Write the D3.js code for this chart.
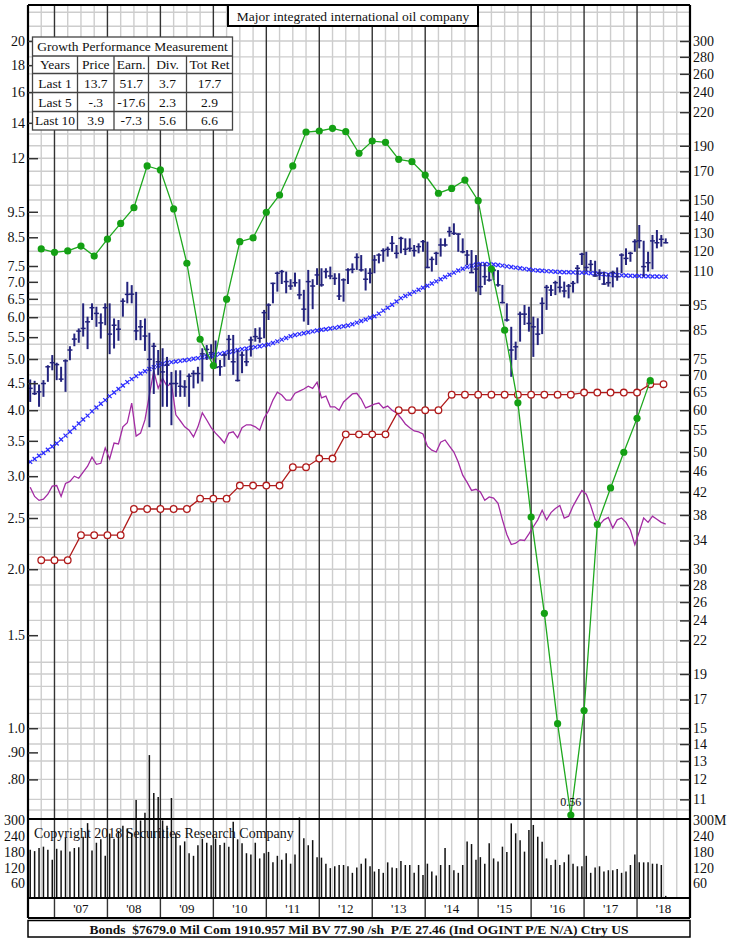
<!DOCTYPE html>
<html>
<head>
<meta charset="utf-8">
<script src="https://cdn.jsdelivr.net/npm/d3@7"></script>
<style>
  body { margin: 0; background: #fff; }
  svg text { font-family: "Liberation Serif", "DejaVu Serif", serif; fill: #111; }
</style>
</head>
<body>
<svg id="chart" width="730" height="939"></svg>
<script>
// monthly series start July 2006, quarterly series start Q3 2006
var firstMonth = 2006.5;
var firstQuarter = 2006.75;

// monthly price bars (right scale, $)
var priceHigh = [
  68.6, 68.2, 67.1, 68.4, 73.0, 76.3,
  73.8, 72.5, 74.9, 79.3, 83.8, 85.7, 95.6, 90.2, 95.6, 94.2, 91.5, 95.6,
  95.6, 89.5, 88.9, 97.7, 105.0, 103.5, 100.5, 88.9, 89.5, 84.1, 80.5, 78.0,
  78.6, 75.7, 70.9, 71.4, 71.4, 68.4, 70.4, 71.4, 72.5, 78.6, 79.7, 80.0,
  81.3, 74.7, 76.9, 83.3, 83.3, 78.0, 77.5, 78.0, 82.7, 85.8, 86.1, 92.9,
  95.6, 104.6, 109.8, 110.6, 109.8, 106.2, 109.3, 106.2, 101.4, 110.6, 106.2, 111.4,
  111.4, 111.4, 112.2, 109.0, 109.0, 106.6, 111.4, 113.8, 118.9, 118.0, 111.4, 111.4,
  118.0, 118.9, 121.5, 122.4, 128.2, 123.3, 127.8, 126.9, 126.9, 123.3, 124.2, 126.0,
  125.1, 117.2, 119.7, 126.9, 126.9, 133.5, 135.5, 129.7, 126.9, 120.6, 120.6, 118.0,
  113.8, 113.8, 112.2, 111.4, 110.5, 103.6, 95.6, 86.3, 80.9, 92.2, 94.9, 94.2,
  90.2, 89.6, 98.1, 103.6, 103.6, 105.5, 107.7, 105.1, 104.0, 105.4, 113.0, 119.2,
  119.7, 115.5, 115.1, 110.9, 109.8, 109.0, 110.2, 111.8, 118.9, 121.5, 119.7, 126.4,
  134.5, 125.6, 119.7, 128.8, 131.6, 128.8, 126.9
];
var priceLow = [
  62.2, 64.1, 60.9, 63.6, 67.9, 71.4,
  68.4, 67.9, 65.0, 74.6, 79.3, 80.5, 82.7, 78.3, 88.9, 86.3, 82.0, 86.9,
  76.6, 78.5, 81.2, 90.2, 95.6, 95.6, 81.4, 81.4, 77.7, 55.7, 64.4, 69.9,
  60.9, 60.9, 56.2, 63.6, 63.6, 63.6, 60.9, 66.0, 67.4, 68.0, 74.7, 74.9,
  72.0, 69.7, 72.5, 74.7, 70.0, 68.0, 70.5, 72.7, 75.8, 80.9, 80.5, 82.1,
  88.9, 95.6, 100.6, 104.0, 99.9, 101.4, 102.8, 97.3, 88.3, 87.0, 93.2, 103.6,
  102.8, 106.6, 106.2, 103.6, 97.0, 96.3, 104.0, 109.0, 110.6, 109.8, 101.1, 104.3,
  109.0, 113.8, 114.6, 117.2, 119.7, 116.3, 118.9, 118.0, 119.7, 117.2, 118.9, 119.7,
  111.4, 109.8, 113.0, 117.2, 122.4, 127.8, 128.8, 119.7, 118.9, 113.0, 109.3, 100.6,
  99.1, 103.6, 105.1, 105.8, 102.8, 95.6, 88.3, 69.4, 74.7, 80.9, 87.0, 84.5,
  75.7, 79.7, 83.6, 92.9, 98.7, 99.1, 100.2, 98.1, 97.7, 100.2, 104.3, 113.0,
  109.8, 109.8, 107.4, 105.8, 103.6, 102.8, 102.5, 105.5, 109.0, 113.0, 114.6, 119.7,
  121.5, 107.4, 109.8, 110.9, 121.5, 122.4, 124.2
];
var priceClose = [
  66.0, 64.5, 65.0, 67.4, 72.5, 73.8,
  73.2, 68.7, 74.4, 78.0, 81.8, 84.7, 85.7, 88.2, 93.8, 91.5, 87.8, 93.8,
  83.6, 86.9, 85.4, 96.5, 99.4, 99.5, 84.8, 86.3, 82.9, 74.9, 79.3, 74.1,
  70.9, 73.0, 67.4, 67.4, 66.6, 66.4, 69.6, 70.4, 70.4, 76.7, 78.2, 77.1,
  72.3, 72.5, 76.3, 81.7, 74.1, 68.3, 76.3, 74.1, 81.5, 82.7, 82.1, 91.8,
  94.9, 104.3, 109.0, 109.8, 105.1, 103.1, 104.6, 99.2, 93.2, 105.1, 103.1, 108.2,
  103.6, 109.8, 107.7, 106.6, 98.7, 105.9, 110.6, 110.9, 116.8, 110.6, 106.2, 109.0,
  115.5, 118.0, 120.3, 121.0, 124.2, 118.9, 126.9, 121.0, 121.5, 120.3, 122.4, 125.1,
  111.8, 115.8, 118.9, 123.3, 123.3, 130.7, 129.7, 129.3, 119.7, 118.0, 109.3, 111.0,
  102.8, 107.4, 105.8, 110.5, 103.6, 95.9, 88.9, 78.0, 79.1, 91.2, 91.2, 87.6,
  86.3, 83.6, 95.6, 102.5, 101.3, 104.6, 102.5, 100.9, 103.1, 104.3, 111.4, 118.4,
  111.8, 113.3, 107.7, 109.0, 104.0, 104.6, 109.4, 107.4, 118.0, 116.3, 118.9, 125.1,
  125.6, 112.2, 114.1, 125.5, 124.5, 126.4, 124.5
];
// moving average (blue x marks), right scale
var movingAvg = [
  47.9, 48.5, 49.2, 49.8, 50.5, 51.2,
  51.9, 52.8, 53.7, 54.6, 55.6, 56.6, 57.6, 58.6, 59.7, 60.7, 61.7, 62.7,
  63.8, 64.8, 65.8, 66.8, 67.8, 68.7, 69.6, 70.4, 71.1, 71.8, 72.4, 72.9,
  73.4, 73.7, 74.0, 74.2, 74.4, 74.6, 74.8, 75.1, 75.3, 75.6, 75.8, 76.1,
  76.4, 76.7, 77.0, 77.3, 77.6, 78.0, 78.3, 78.5, 78.8, 79.0, 79.3, 79.6,
  79.9, 80.4, 81.0, 81.6, 82.2, 82.8, 83.3, 83.6, 83.9, 84.3, 84.6, 84.9,
  85.2, 85.4, 85.7, 85.9, 86.2, 86.5, 86.8, 87.3, 87.9, 88.5, 89.1, 89.8,
  90.4, 91.4, 92.6, 93.8, 95.0, 96.4, 97.8, 98.7, 99.6, 100.5, 101.4, 102.3,
  103.2, 104.2, 105.2, 106.2, 107.2, 108.3, 109.3, 110.3, 111.2, 112.0, 112.6, 113.1,
  113.5, 113.5, 113.4, 113.2, 113.0, 112.7, 112.3, 112.0, 111.7, 111.4, 111.1, 110.8,
  110.5, 110.3, 110.2, 110.0, 109.9, 109.7, 109.6, 109.5, 109.5, 109.4, 109.3, 109.3,
  109.2, 109.0, 108.9, 108.7, 108.6, 108.4, 108.2, 108.1, 108.0, 107.9, 107.8, 107.7,
  107.7, 107.6, 107.6, 107.5, 107.5, 107.4, 107.4
];
// relative strength line (purple), plotted against right scale
var relStrength = [
  42.9, 41.2, 40.5, 40.7, 41.6, 43.1,
  43.2, 41.2, 43.6, 44.0, 45.0, 44.6, 45.8, 47.0, 48.9, 47.4, 47.6, 50.9,
  48.5, 52.0, 51.8, 55.8, 56.8, 61.9, 53.6, 54.3, 57.5, 64.1, 71.2, 66.0,
  69.0, 66.6, 67.5, 58.8, 57.3, 55.8, 55.0, 53.4, 55.8, 59.3, 57.5, 55.6,
  54.3, 53.2, 52.0, 54.3, 54.6, 53.2, 55.6, 56.3, 56.3, 55.8, 55.0, 58.0,
  59.8, 62.7, 64.9, 64.1, 62.7, 62.7, 64.6, 65.2, 65.8, 66.6, 66.0, 67.8,
  63.3, 63.8, 60.9, 60.9, 60.0, 62.2, 63.3, 64.4, 64.6, 63.0, 60.6, 61.1,
  61.6, 61.9, 60.6, 61.1, 60.0, 59.3, 58.0, 56.5, 55.6, 54.8, 54.6, 54.1,
  51.3, 50.4, 50.0, 52.2, 52.7, 51.3, 50.0, 47.8, 45.2, 43.8, 42.3, 42.5,
  42.0, 40.5, 41.1, 40.9, 40.0, 37.2, 34.9, 33.4, 33.6, 34.1, 34.0, 35.0,
  36.1, 37.2, 38.8, 37.2, 38.4, 39.1, 39.6, 37.5, 37.8, 39.5, 40.9, 42.3,
  41.6, 39.6, 37.3, 36.4, 37.2, 37.6, 35.9, 37.2, 37.5, 36.8, 35.6, 33.4,
  35.3, 37.5, 36.8, 37.8, 37.3, 36.8, 36.5
];
// monthly volume, millions of shares
var volume = [
  188, 183, 195, 200, 188, 150,
  192, 185, 235, 182, 195, 198, 238, 290, 185, 215, 228, 165,
  250, 230, 260, 280, 270, 250, 378, 300, 330, 550, 405, 390,
  300, 280, 386, 250, 205, 220, 175, 165, 205, 230, 215, 205,
  230, 206, 215, 200, 295, 228, 213, 175, 170, 215, 155, 175,
  180, 140, 165, 150, 175, 135, 170, 312, 232, 205, 225, 160,
  158, 135, 118, 125, 130, 130, 125, 100, 120, 135, 155, 125,
  105, 115, 100, 140, 120, 118, 145, 130, 130, 100, 130, 92,
  135, 105, 90, 130, 195, 130, 110, 100, 130, 220, 210, 150,
  160, 135, 213, 155, 143, 200, 180, 289, 251, 225, 181, 264,
  283, 238, 219, 155, 130, 150, 130, 140, 170, 135, 125, 125,
  165, 100, 120, 125, 105, 110, 110, 115, 100, 105, 130, 170,
  140, 140, 140, 135, 135, 130, 12
];
// quarterly earnings and dividends per share (left scale)
var earnings = [
  8.08, 7.96, 8.01, 8.18, 7.83, 8.43, 9.03, 9.67, 11.60, 11.40, 9.62, 7.59,
  5.45, 4.86, 6.49, 8.34, 8.48, 9.48, 10.22, 11.60, 13.45, 13.51, 13.67, 13.47,
  12.26, 12.93, 12.86, 11.94, 11.82, 11.15, 10.30, 10.52, 10.91, 9.97, 7.40, 5.67,
  4.13, 2.51, 1.65, 1.02, 0.56, 1.08, 2.43, 2.85, 3.33, 3.86, 4.55
];
var dividends = [
  2.08, 2.08, 2.08, 2.32, 2.32, 2.32, 2.32, 2.60, 2.60, 2.60, 2.60, 2.60,
  2.72, 2.72, 2.72, 2.88, 2.88, 2.88, 2.88, 3.12, 3.12, 3.24, 3.24, 3.60,
  3.60, 3.60, 3.60, 4.00, 4.00, 4.00, 4.00, 4.28, 4.28, 4.28, 4.28, 4.28,
  4.28, 4.28, 4.28, 4.28, 4.28, 4.32, 4.32, 4.32, 4.32, 4.32, 4.48, 4.48
];

var leftTicks = [20, 18, 16, 14, 12, 9.5, 8.5, 7.5, 7.0, 6.5, 6.0, 5.5, 5.0, 4.5, 4.0, 3.5, 3.0, 2.5, 2.0, 1.5, 1.0, 0.9, 0.8];
var leftTickLabels = ["20", "18", "16", "14", "12", "9.5", "8.5", "7.5", "7.0", "6.5", "6.0", "5.5", "5.0", "4.5", "4.0", "3.5", "3.0", "2.5", "2.0", "1.5", "1.0", ".90", ".80"];
var rightTicks = [300, 280, 260, 240, 220, 190, 170, 150, 140, 130, 120, 110, 95, 85, 75, 70, 65, 60, 55, 50, 46, 42, 38, 34, 30, 28, 26, 24, 22, 19, 17, 15, 14, 13, 12, 11];
var gridValues = [340, 320, 300, 280, 260, 240, 220, 200, 190, 180, 170, 160, 150, 140, 130, 120, 110, 100, 95, 90, 85, 80, 75, 70, 65, 60, 55, 50, 48, 46, 44, 42, 40, 38, 36, 34, 32, 30, 28, 26, 24, 22, 20, 19, 18, 17, 16, 15, 14, 13, 12, 11, 10.5];
var volTicks = [300, 240, 180, 120, 60];
var volTickLabels = ["300M", "240", "180", "120", "60"];
var years = [2007, 2008, 2009, 2010, 2011, 2012, 2013, 2014, 2015, 2016, 2017, 2018];
var yearLabels = ["'07", "'08", "'09", "'10", "'11", "'12", "'13", "'14", "'15", "'16", "'17", "'18"];

var tableTitle = "Growth Performance Measurement";
var tableHeader = ["Years", "Price", "Earn.", "Div.", "Tot Ret"];
var tableRows = [
  ["Last 1", "13.7", "51.7", "3.7", "17.7"],
  ["Last 5", "-.3", "-17.6", "2.3", "2.9"],
  ["Last 10", "3.9", "-7.3", "5.6", "6.6"]
];
var title = "Major integrated international oil company";
var footer = "Bonds  $7679.0 Mil Com 1910.957 Mil BV 77.90 /sh  P/E 27.46 (Ind OGINT P/E N/A) Ctry US";
var copyright = "Copyright 2018 Securities Research Company";
var lowLabel = "0.56";

// ---- layout (note: "top" is reserved on window, so plotTop)
var plotLeft = 28, plotRight = 690, plotTop = 5, mainBottom = 818, volTop = 820, volBottom = 898, stripBottom = 918;

var x = d3.scaleLinear().domain([2006.5, 2019]).range([plotLeft, plotRight]);
var yEps = d3.scaleLog().domain([20, 0.8]).range([41, 779.4]);
var yPrice = d3.scaleLog().domain([300, 12]).range([41, 779.4]);
var yVol = d3.scaleLinear().domain([0, 300]).range([899, 820.5]);

function monthT(i) { return firstMonth + (i + 0.5) / 12; }
function quarterT(i) { return firstQuarter + i * 0.25; }
function isYear(d) { return Math.abs(d - Math.round(d)) < 1e-6; }

var svg = d3.select("#chart");
svg.append("rect").attr("width", 730).attr("height", 939).attr("fill", "#fff");

var grid = svg.append("g");

// horizontal grid (main panel only)
grid.selectAll("line.h")
  .data(gridValues.filter(d => yPrice(d) > plotTop && yPrice(d) < mainBottom))
  .enter().append("line")
  .attr("class", "h")
  .attr("x1", plotLeft).attr("x2", plotRight)
  .attr("y1", d => yPrice(d)).attr("y2", d => yPrice(d))
  .attr("stroke", "#cdcdcd").attr("stroke-width", 1.4);

// vertical grid, quarterly, years darker
var quarters = d3.range(2006.75, 2019, 0.25);
grid.selectAll("line.v").data(quarters).enter().append("line")
  .attr("class", "v")
  .attr("x1", d => x(d)).attr("x2", d => x(d))
  .attr("y1", plotTop)
  .attr("y2", d => isYear(d) ? stripBottom : volBottom)
  .attr("stroke", d => isYear(d) ? "#333" : "#cdcdcd")
  .attr("stroke-width", 1.4);

// volume bars
svg.append("g").selectAll("line").data(volume).enter().append("line")
  .attr("x1", (d, i) => x(monthT(i))).attr("x2", (d, i) => x(monthT(i)))
  .attr("y1", yVol(0)).attr("y2", d => yVol(d))
  .attr("stroke", "#111").attr("stroke-width", 1.5);

// relative strength
var line = d3.line();
svg.append("path")
  .attr("d", line(relStrength.map((d, i) => [x(monthT(i)), yPrice(d)])))
  .attr("fill", "none").attr("stroke", "#a32ba3").attr("stroke-width", 1.3);

// dividends
var divPts = dividends.map((d, i) => [x(quarterT(i)), yEps(d)]);
svg.append("path").attr("d", line(divPts))
  .attr("fill", "none").attr("stroke", "#b01a1a").attr("stroke-width", 1.3);
svg.append("g").selectAll("circle").data(divPts).enter().append("circle")
  .attr("cx", d => d[0]).attr("cy", d => d[1]).attr("r", 3.3)
  .attr("fill", "#fff").attr("stroke", "#b01a1a").attr("stroke-width", 1.3);

// moving average x marks
svg.append("g").selectAll("path").data(movingAvg).enter().append("path")
  .attr("transform", (d, i) => "translate(" + x(monthT(i)) + "," + yPrice(d) + ")")
  .attr("d", "M-2,-2L2,2M-2,2L2,-2")
  .attr("stroke", "#2b2bff").attr("stroke-width", 1.3);

// price bars
var bars = svg.append("g").selectAll("g").data(priceHigh).enter().append("g")
  .attr("transform", (d, i) => "translate(" + x(monthT(i)) + ",0)");
bars.append("line")
  .attr("y1", (d, i) => yPrice(priceHigh[i])).attr("y2", (d, i) => yPrice(priceLow[i]))
  .attr("stroke", "#23237d").attr("stroke-width", 2);
bars.append("line")
  .attr("x1", -2.5).attr("x2", 2.5)
  .attr("y1", (d, i) => yPrice(priceClose[i])).attr("y2", (d, i) => yPrice(priceClose[i]))
  .attr("stroke", "#23237d").attr("stroke-width", 1.5);

// earnings
var epsPts = earnings.map((d, i) => [x(quarterT(i)), Math.min(yEps(d), mainBottom - 3)]);
svg.append("path").attr("d", line(epsPts))
  .attr("fill", "none").attr("stroke", "#1ea81e").attr("stroke-width", 1.3);
svg.append("g").selectAll("circle").data(epsPts).enter().append("circle")
  .attr("cx", d => d[0]).attr("cy", d => d[1]).attr("r", 3.6)
  .attr("fill", "#14a014");
var lowIdx = earnings.indexOf(d3.min(earnings));
svg.append("text").text(lowLabel)
  .attr("x", epsPts[lowIdx][0]).attr("y", epsPts[lowIdx][1] - 9)
  .attr("text-anchor", "middle").attr("font-size", 12);

// frame lines
svg.append("line").attr("x1", plotLeft).attr("x2", plotLeft).attr("y1", plotTop).attr("y2", stripBottom)
  .attr("stroke", "#000").attr("stroke-width", 2.2);
svg.append("line").attr("x1", plotRight).attr("x2", plotRight).attr("y1", plotTop).attr("y2", stripBottom)
  .attr("stroke", "#000").attr("stroke-width", 2.2);
[plotTop, volTop - 1, volBottom, stripBottom].forEach(function(yy) {
  svg.append("line").attr("x1", plotLeft).attr("x2", plotRight).attr("y1", yy).attr("y2", yy)
    .attr("stroke", "#000").attr("stroke-width", 2);
});

// axes
function styleAxis(g) {
  g.select(".domain").remove();
  g.selectAll(".tick line").attr("stroke", "#333").attr("stroke-width", 1.5);
  g.selectAll("text").attr("font-family", "Liberation Serif").attr("font-size", 14).attr("fill", "#111");
}
svg.append("g").attr("transform", "translate(" + plotLeft + ",0)")
  .call(d3.axisLeft(yEps).tickValues(leftTicks).tickSizeInner(-10).tickSizeOuter(0).tickPadding(3)
    .tickFormat((d, i) => leftTickLabels[i]))
  .call(styleAxis);
svg.append("g").attr("transform", "translate(" + plotRight + ",0)")
  .call(d3.axisRight(yPrice).tickValues(rightTicks).tickSizeInner(-10).tickSizeOuter(0).tickPadding(3)
    .tickFormat(d3.format("d")))
  .call(styleAxis);
svg.append("g").attr("transform", "translate(" + plotLeft + ",0)")
  .call(d3.axisLeft(yVol).tickValues(volTicks).tickSize(0).tickPadding(3).tickFormat(d3.format("d")))
  .call(styleAxis);
svg.append("g").attr("transform", "translate(" + plotRight + ",0)")
  .call(d3.axisRight(yVol).tickValues(volTicks).tickSize(0).tickPadding(3)
    .tickFormat((d, i) => volTickLabels[i]))
  .call(styleAxis);

// year labels
svg.append("g").selectAll("text").data(years).enter().append("text")
  .attr("x", d => x(d + 0.5)).attr("y", 913)
  .attr("text-anchor", "middle").attr("font-size", 13)
  .text((d, i) => yearLabels[i]);

svg.append("text").text(copyright)
  .attr("x", 34).attr("y", 838).attr("font-size", 14);

// footer box
svg.append("rect").attr("x", plotLeft).attr("y", 920.5).attr("width", plotRight - plotLeft).attr("height", 16.5)
  .attr("fill", "#fff").attr("stroke", "#000").attr("stroke-width", 1.5);
svg.append("text").text(footer)
  .attr("x", 359).attr("y", 933.5).attr("text-anchor", "middle")
  .attr("font-size", 13.5).attr("font-weight", "bold").style("white-space", "pre");

// title box
svg.append("rect").attr("x", 228).attr("y", 5).attr("width", 250).attr("height", 21)
  .attr("fill", "#fff").attr("stroke", "#000").attr("stroke-width", 2);
svg.append("text").text(title)
  .attr("x", 353).attr("y", 20.5).attr("text-anchor", "middle").attr("font-size", 13.5);

// growth table
var tbl = svg.append("g");
var colX = [32.5, 77.5, 114, 148.5, 186.5, 232.5];
var rowY = [37, 56, 73.5, 92.5, 111.5, 130];
tbl.append("rect").attr("x", colX[0]).attr("y", rowY[0])
  .attr("width", colX[5] - colX[0]).attr("height", rowY[5] - rowY[0])
  .attr("fill", "#fff").attr("stroke", "#444").attr("stroke-width", 1.3);
rowY.slice(1, 5).forEach(function(yy) {
  tbl.append("line").attr("x1", colX[0]).attr("x2", colX[5]).attr("y1", yy).attr("y2", yy)
    .attr("stroke", "#444").attr("stroke-width", 1.3);
});
colX.slice(1, 5).forEach(function(xx) {
  tbl.append("line").attr("x1", xx).attr("x2", xx).attr("y1", rowY[1]).attr("y2", rowY[5])
    .attr("stroke", "#444").attr("stroke-width", 1.3);
});
tbl.append("text").text(tableTitle)
  .attr("x", (colX[0] + colX[5]) / 2).attr("y", rowY[1] - 5)
  .attr("text-anchor", "middle").attr("font-size", 13.5);
[tableHeader].concat(tableRows).forEach(function(row, r) {
  row.forEach(function(cell, c) {
    tbl.append("text").text(cell)
      .attr("x", (colX[c] + colX[c + 1]) / 2).attr("y", rowY[r + 2] - 5)
      .attr("text-anchor", "middle").attr("font-size", 13.5);
  });
});
</script>
</body>
</html>
